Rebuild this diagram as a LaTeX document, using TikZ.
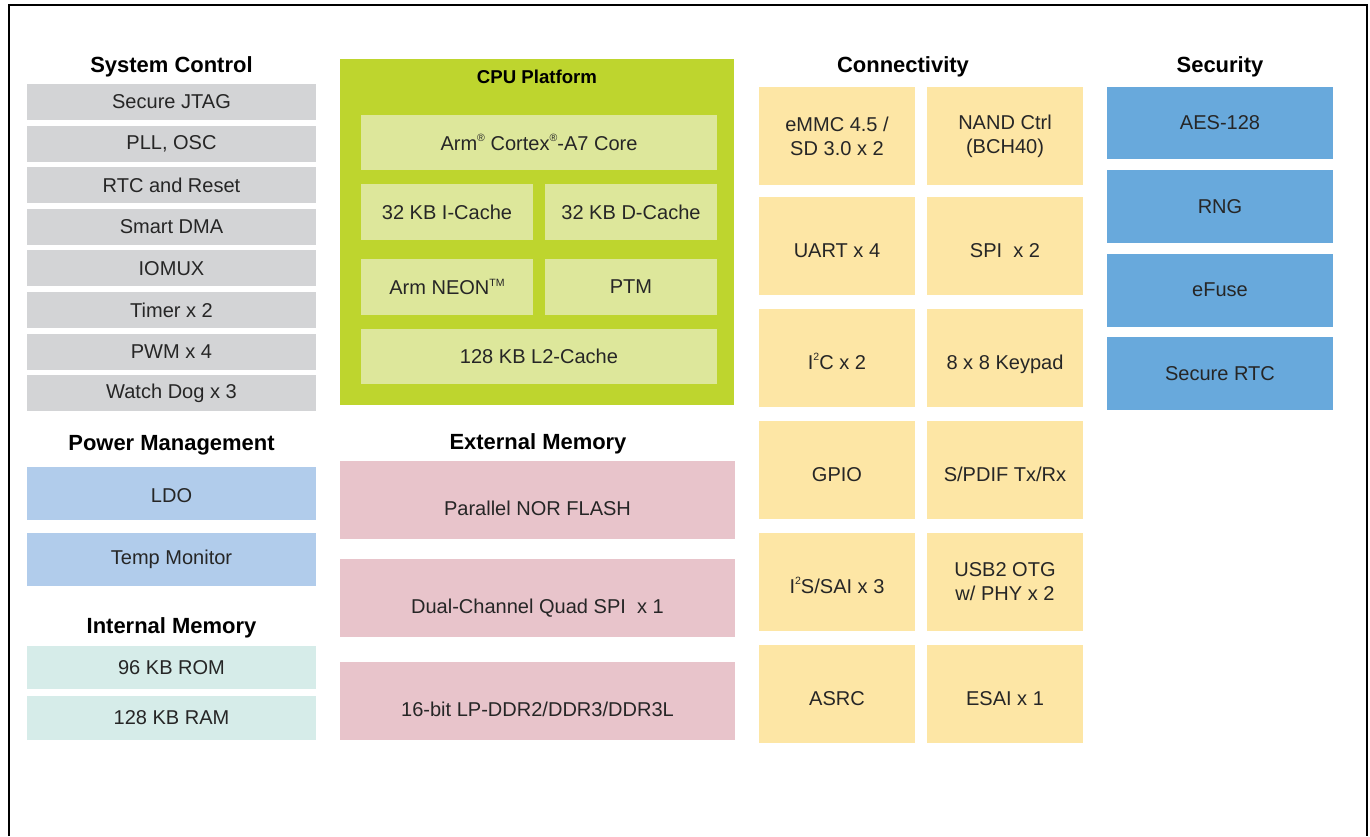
\documentclass[tikz,border=0pt]{standalone}
\usepackage{fontspec}
\setmainfont{Liberation Sans}
\usepackage{tikz}

\definecolor{txtgray}{HTML}{262626}
\definecolor{sysgray}{HTML}{D3D4D6}
\definecolor{cpugreen}{HTML}{BED52E}
\definecolor{cpuinner}{HTML}{DDE79B}
\definecolor{pwrblue}{HTML}{B1CCEB}
\definecolor{memteal}{HTML}{D6ECE9}
\definecolor{extpink}{HTML}{E8C4CB}
\definecolor{conyellow}{HTML}{FDE6A5}
\definecolor{secblue}{HTML}{68A9DC}

\newcommand{\supsm}[1]{\raisebox{0.42em}{\fontsize{6}{6}\selectfont #1}}

\tikzset{
  blk/.style={inner sep=0pt, align=center, text=txtgray,
    font=\fontsize{11.4}{13.7}\selectfont},
  hdr/.style={inner sep=0pt, anchor=base, text=black,
    font=\fontsize{12.5}{14}\selectfont\bfseries},
  sysbox/.style={blk, fill=sysgray, minimum width=5.78cm, minimum height=0.72cm},
  pwrbox/.style={blk, fill=pwrblue, minimum width=5.78cm, minimum height=1.06cm},
  membox/.style={blk, fill=memteal, minimum width=5.78cm, minimum height=0.87cm},
  cpuin/.style={blk, fill=cpuinner, minimum height=1.11cm},
  extbox/.style={blk, fill=extpink, minimum width=7.9cm, minimum height=1.56cm,
    text height=17.3pt, text depth=0pt},
  conbox/.style={blk, fill=conyellow, minimum width=3.14cm, minimum height=1.96cm},
  oneline/.style={text height=12.8pt, text depth=0pt},
  secbox/.style={blk, fill=secblue, minimum width=4.52cm, minimum height=1.46cm}
}

\begin{document}
\begin{tikzpicture}[x=0.02cm, y=-0.02cm]
    \useasboundingbox (0,0) rectangle (1370,836);
    \draw [line width=1.2pt] (9,836) -- (9,5) -- (1367,5) -- (1367,836);

    % system control
    \node [hdr] (schead) at (171.5,72) {System Control};
    \foreach \lbl [count=\i] in {Secure JTAG, {PLL, OSC}, RTC and Reset, Smart DMA,
        IOMUX, Timer x 2, PWM x 4, Watch Dog x 3}
      \node [sysbox] (sc\i) at (171.5,{102+41.6*(\i-1)}) {\lbl};

    % power management
    \node [hdr] (pwrhead) at (171.5,450) {Power Management};
    \node [pwrbox, text height=10pt, text depth=0pt] (ldo) at (171.5,493.5) {LDO};
    \node [pwrbox] (temp) at (171.5,559.5) {Temp Monitor};

    % internal memory
    \node [hdr] (imhead) at (171.5,633) {Internal Memory};
    \node [membox] (rom) at (171.5,667.5) {96 KB ROM};
    \node [membox] (ram) at (171.5,718) {128 KB RAM};

    % cpu platform
    \node [fill=cpugreen, minimum width=7.88cm, minimum height=6.92cm] (cpu) at (537,232) {};
    \node [hdr, font=\fontsize{10.6}{12}\selectfont\bfseries] (cpuhead) at (537,83) {CPU Platform};
    \node [cpuin, minimum width=7.12cm] (core) at (539,142.5)
      {Arm\supsm{®} Cortex\supsm{®}-A7 Core};
    \node [cpuin, minimum width=3.44cm] (icache) at (447,212) {32 KB I-Cache};
    \node [cpuin, minimum width=3.44cm] (dcache) at (631,212) {32 KB D-Cache};
    \node [cpuin, minimum width=3.44cm] (neon) at (447,287) {Arm NEON\supsm{TM}};
    \node [cpuin, minimum width=3.44cm] (ptm) at (631,287) {PTM};
    \node [cpuin, minimum width=7.12cm] (ltwo) at (539,356.5) {128 KB L2-Cache};

    % external memory
    \node [hdr] (exthead) at (538,449) {External Memory};
    \node [extbox] (nor) at (537.5,500) {Parallel NOR FLASH};
    \node [extbox] (qspi) at (537.5,598) {Dual-Channel Quad SPI\ \ x 1};
    \node [extbox] (ddr) at (537.5,701) {16-bit LP-DDR2/DDR3/DDR3L};

    % connectivity
    \node [hdr] (conhead) at (903,72) {Connectivity};
    \node [conbox] (emmc) at (837,136) {eMMC 4.5 /\\SD 3.0 x 2};
    \node [conbox] (nand) at (1005,136) {NAND Ctrl\\(BCH40)};
    \node [conbox, oneline] (uart) at (837,246) {UART x 4};
    \node [conbox, oneline] (spi) at (1005,246) {SPI\ \ x 2};
    \node [conbox, oneline] (iic) at (837,358) {I\supsm{2}C x 2};
    \node [conbox, oneline] (keypad) at (1005,358) {8 x 8 Keypad};
    \node [conbox, oneline] (gpio) at (837,470) {GPIO};
    \node [conbox, oneline] (spdif) at (1005,470) {S/PDIF Tx/Rx};
    \node [conbox, oneline] (iis) at (837,582) {I\supsm{2}S/SAI x 3};
    \node [conbox] (usb) at (1005,582) {USB2 OTG\\w/ PHY x 2};
    \node [conbox, oneline] (asrc) at (837,694) {ASRC};
    \node [conbox, oneline] (esai) at (1005,694) {ESAI x 1};

    % security
    \node [hdr] (sechead) at (1220,72) {Security};
    \foreach \lbl [count=\i] in {AES-128, RNG, eFuse, Secure RTC}
      \node [secbox] (sec\i) at (1220,{123+83.5*(\i-1)}) {\lbl};
\end{tikzpicture}
\end{document}
